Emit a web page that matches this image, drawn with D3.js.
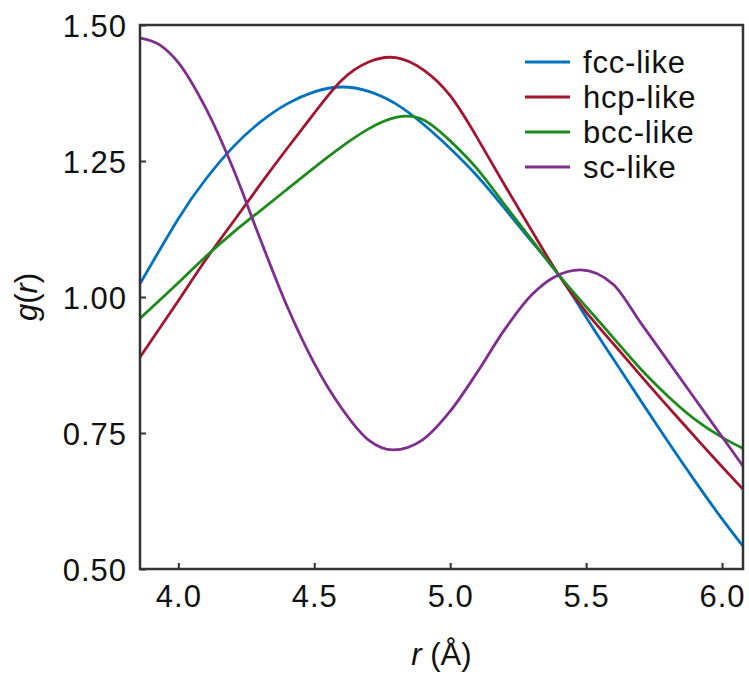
<!DOCTYPE html>
<html>
<head>
<meta charset="utf-8">
<script src="https://cdn.jsdelivr.net/npm/d3@7"></script>
<style>
  body { margin: 0; background: #fff; }
  text { font-family: "Liberation Sans", Arial, sans-serif; fill: #111; }
</style>
</head>
<body>
<div id="chart"></div>
<script>
// r grid (Å) and g(r)
const r = [3.86, 4.0, 4.1, 4.2, 4.3, 4.4, 4.5, 4.6, 4.7, 4.8, 4.9, 5.0,
           5.1, 5.2, 5.3, 5.4, 5.5, 5.6, 5.7, 5.8, 5.9, 6.0, 6.08];
const fcc = [1.025, 1.144, 1.216, 1.275, 1.321, 1.355, 1.377, 1.386, 1.378, 1.355, 1.318, 1.273,
             1.222, 1.163, 1.102, 1.04, 0.963, 0.886, 0.81, 0.735, 0.662, 0.592, 0.54];
const hcp = [0.89, 0.993, 1.068, 1.137, 1.206, 1.273, 1.338, 1.398, 1.432, 1.44, 1.418, 1.37,
             1.292, 1.206, 1.122, 1.04, 0.972, 0.914, 0.856, 0.799, 0.743, 0.688, 0.645];
const bcc = [0.961, 1.026, 1.074, 1.118, 1.158, 1.198, 1.238, 1.276, 1.309, 1.33, 1.326, 1.287,
             1.235, 1.17, 1.105, 1.04, 0.982, 0.925, 0.868, 0.818, 0.775, 0.742, 0.721];
// sc-like read at its own points (its turning points included)
const rSc = [3.86, 3.93, 4.0, 4.1, 4.2, 4.3, 4.4, 4.5, 4.6, 4.7, 4.79, 4.9, 5.0,
             5.1, 5.2, 5.3, 5.38, 5.48, 5.6, 5.7, 5.8, 5.9, 6.0, 6.08];
const sc  = [1.476, 1.464, 1.431, 1.348, 1.238, 1.108, 0.983, 0.878, 0.796, 0.737, 0.719, 0.738, 0.79,
             0.862, 0.94, 1.004, 1.036, 1.05, 1.023, 0.953, 0.883, 0.813, 0.743, 0.687];

const seriesNames = ["fcc-like", "hcp-like", "bcc-like", "sc-like"];
const seriesR = [r, r, r, rSc];
const seriesValues = [fcc, hcp, bcc, sc];
const colors = ["#0072BD", "#A2142F", "#1E8A1E", "#7E2F8E"];

const xTicks = [4.0, 4.5, 5.0, 5.5, 6.0];
const yTicks = [0.50, 0.75, 1.00, 1.25, 1.50];

const W = 749, H = 677;
const margin = { top: 25, right: 6, bottom: 108, left: 140 };
const width = W - margin.left - margin.right;
const height = H - margin.top - margin.bottom;

const svg = d3.select("#chart").append("svg")
  .attr("width", W)
  .attr("height", H);

const g = svg.append("g")
  .attr("transform", `translate(${margin.left},${margin.top})`);

const x = d3.scaleLinear().domain([3.859, 6.077]).range([0, width]);
const y = d3.scaleLinear().domain([0.5, 1.5]).range([height, 0]);

g.append("defs").append("clipPath").attr("id", "clip")
  .append("rect").attr("width", width).attr("height", height);

const line = d3.line()
  .x(d => x(d[0]))
  .y(d => y(d[1]));

seriesValues.forEach((vals, i) => {
  // sc-like starts on a flat top, monotone keeps that end flat
  const curve = i === 3 ? d3.curveMonotoneX : d3.curveNatural;
  g.append("path")
    .datum(seriesR[i].map((rv, j) => [rv, vals[j]]))
    .attr("clip-path", "url(#clip)")
    .attr("fill", "none")
    .attr("stroke", colors[i])
    .attr("stroke-width", 2.8)
    .attr("d", line.curve(curve));
});

// Axes (ticks point inward)
const xAxis = g.append("g")
  .attr("transform", `translate(0,${height})`)
  .call(d3.axisBottom(x).tickValues(xTicks).tickFormat(d3.format(".1f"))
    .tickSizeInner(-6).tickSizeOuter(0).tickPadding(16));
const yAxis = g.append("g")
  .call(d3.axisLeft(y).tickValues(yTicks).tickFormat(d3.format(".2f"))
    .tickSizeInner(-6).tickSizeOuter(0).tickPadding(13));

[xAxis, yAxis].forEach(a => {
  a.select(".domain").remove();
  a.selectAll("line").attr("stroke", "#333").attr("stroke-width", 2);
  a.selectAll("text").style("font-size", "31px").style("letter-spacing", "1px").attr("fill", "#111");
});
yAxis.selectAll("text").attr("dy", "0.36em");

// Frame
g.append("rect")
  .attr("width", width).attr("height", height)
  .attr("fill", "none").attr("stroke", "#333").attr("stroke-width", 2.5);

// Axis titles
svg.append("text")
  .attr("x", margin.left + width / 2)
  .attr("y", 665)
  .attr("text-anchor", "middle")
  .style("font-size", "31px")
  .html('<tspan font-style="italic">r</tspan> (Å)');

svg.append("text")
  .attr("transform", `translate(37,${margin.top + height / 2}) rotate(-90)`)
  .attr("text-anchor", "middle")
  .style("font-size", "31px")
  .html('<tspan font-style="italic">g</tspan>(<tspan font-style="italic">r</tspan>)');

// Legend
const legend = svg.append("g").attr("transform", "translate(525,62)");
seriesNames.forEach((name, i) => {
  const row = legend.append("g").attr("transform", `translate(0,${i * 35})`);
  row.append("line")
    .attr("x1", 0).attr("x2", 45)
    .attr("stroke", colors[i]).attr("stroke-width", 2.8);
  row.append("text")
    .attr("x", 58).attr("dy", "0.36em")
    .style("font-size", "31px")
    .style("letter-spacing", "0.8px")
    .text(name);
});
</script>
</body>
</html>
